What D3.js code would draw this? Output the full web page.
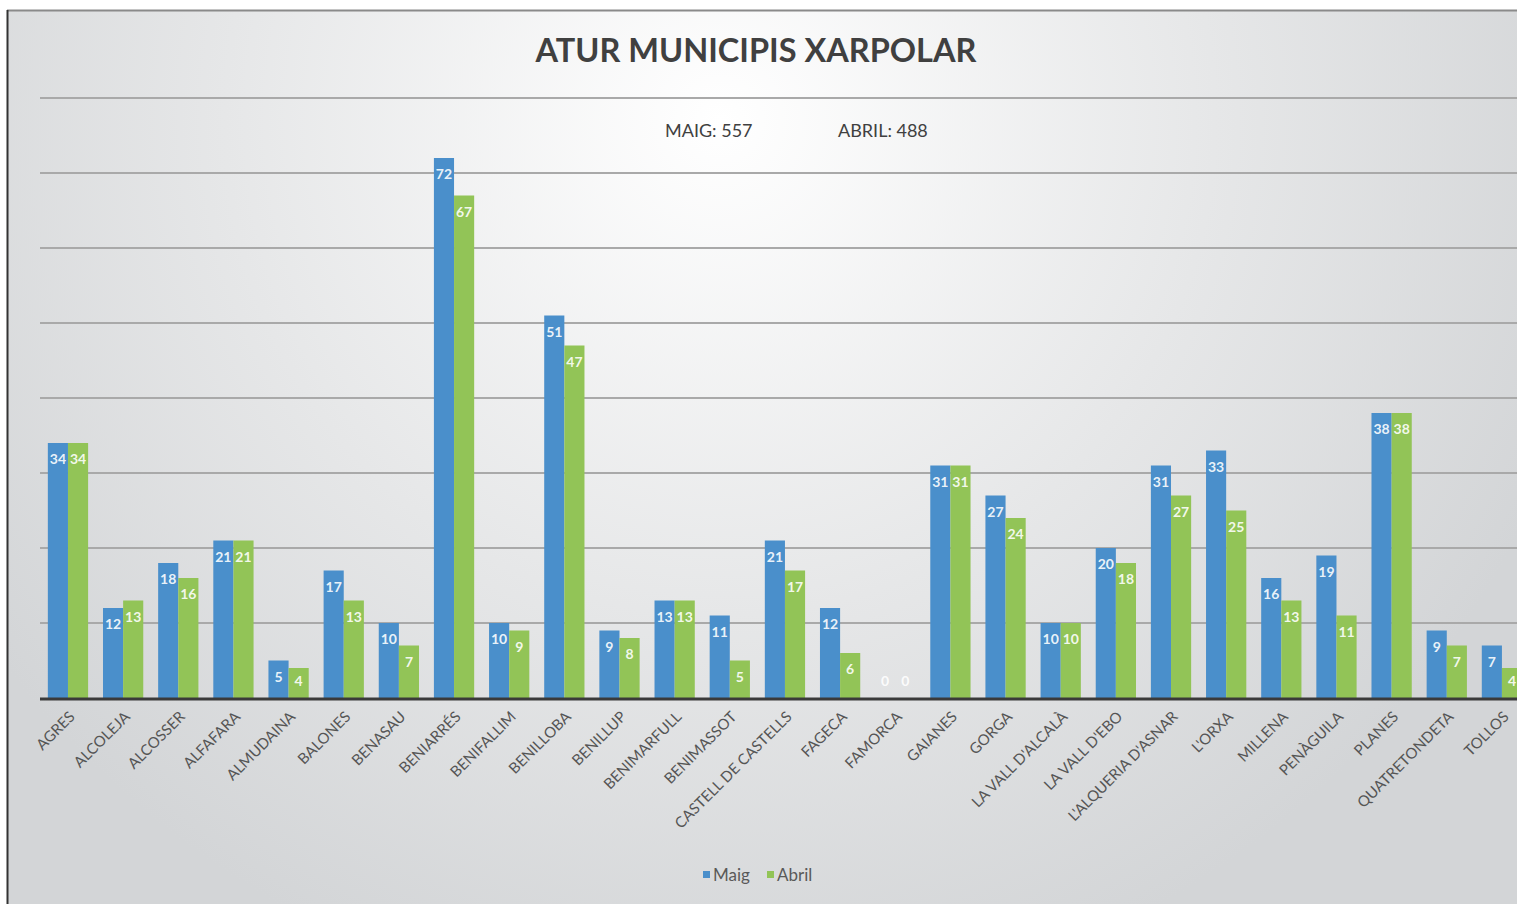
<!DOCTYPE html>
<html>
<head>
<meta charset="utf-8">
<script src="https://cdn.jsdelivr.net/npm/d3@7"></script>
<style>
  html, body { margin: 0; padding: 0; background: #ffffff; overflow: hidden; }
  svg { display: block; font-family: Lato, "Open Sans", sans-serif; }
</style>
</head>
<body>
<div class="chart"></div>
<script>
// municipis i dades d'atur
var municipis = ["AGRES", "ALCOLEJA", "ALCOSSER", "ALFAFARA", "ALMUDAINA", "BALONES", "BENASAU",
  "BENIARRÉS", "BENIFALLIM", "BENILLOBA", "BENILLUP", "BENIMARFULL", "BENIMASSOT",
  "CASTELL DE CASTELLS", "FAGECA", "FAMORCA", "GAIANES", "GORGA", "LA VALL D'ALCALÀ",
  "LA VALL D'EBO", "L'ALQUERIA D'ASNAR", "L'ORXA", "MILLENA", "PENÀGUILA", "PLANES",
  "QUATRETONDETA", "TOLLOS"];
var maig  = [34, 12, 18, 21, 5, 17, 10, 72, 10, 51, 9, 13, 11, 21, 12, 0, 31, 27, 10, 20, 31, 33, 16, 19, 38, 9, 7];
var abril = [34, 13, 16, 21, 4, 13, 7, 67, 9, 47, 8, 13, 5, 17, 6, 0, 31, 24, 10, 18, 27, 25, 13, 11, 38, 7, 4];
var series = ["Maig", "Abril"];
var colors = ["#4a8fcb", "#92c457"];
var yTicks = [10, 20, 30, 40, 50, 60, 70, 80];

var svgWidth = 1517;
var svgHeight = 904;

var svg = d3.select(".chart")
  .append("svg")
  .attr("width", svgWidth)
  .attr("height", svgHeight);

// fons degradat
var defs = svg.append("defs");
var grad = defs.append("radialGradient")
  .attr("id", "bg")
  .attr("gradientUnits", "userSpaceOnUse")
  .attr("cx", 720).attr("cy", 120).attr("r", 900);
grad.append("stop").attr("offset", "0%").attr("stop-color", "#ffffff");
grad.append("stop").attr("offset", "55%").attr("stop-color", "#e6e7e8");
grad.append("stop").attr("offset", "100%").attr("stop-color", "#d3d5d7");

svg.append("rect")
  .attr("x", 8).attr("y", 11)
  .attr("width", svgWidth).attr("height", svgHeight)
  .attr("fill", "url(#bg)");
svg.append("line")
  .attr("x1", 7).attr("x2", svgWidth).attr("y1", 10.5).attr("y2", 10.5)
  .attr("stroke", "#8a8a8a").attr("stroke-width", 2);
svg.append("line")
  .attr("x1", 7.5).attr("x2", 7.5).attr("y1", 10).attr("y2", svgHeight)
  .attr("stroke", "#333333").attr("stroke-width", 2);

var x0 = d3.scaleBand()
  .domain(municipis)
  .range([40.4, 1529.5])
  .paddingInner(0.27)
  .paddingOuter(0.135);

var x1 = d3.scaleBand()
  .domain(series)
  .range([0, x0.bandwidth()]);

var y = d3.scaleLinear()
  .domain([0, 80])
  .range([698, 98]);

// linies de graella
svg.append("g")
  .selectAll("line")
  .data(yTicks)
  .enter()
  .append("line")
  .attr("x1", 40).attr("x2", svgWidth)
  .attr("y1", d => y(d)).attr("y2", d => y(d))
  .attr("stroke", "#a9a9a9")
  .attr("stroke-width", 2);

var rows = municipis.map((m, i) => ({ name: m, vals: [maig[i], abril[i]] }));

var groups = svg.append("g")
  .selectAll("g")
  .data(rows)
  .enter()
  .append("g")
  .attr("transform", d => `translate(${x0(d.name)},0)`);

groups.selectAll("rect")
  .data(d => d.vals.map((v, k) => ({ key: series[k], v: v, k: k })))
  .enter()
  .append("rect")
  .attr("x", d => x1(d.key))
  .attr("y", d => y(d.v))
  .attr("width", x1.bandwidth())
  .attr("height", d => y(0) - y(d.v))
  .attr("fill", d => colors[d.k]);

groups.selectAll("text")
  .data(d => d.vals.map((v, k) => ({ key: series[k], v: v, k: k })))
  .enter()
  .append("text")
  .attr("x", d => x1(d.key) + x1.bandwidth() / 2)
  .attr("y", d => Math.min(y(d.v) + 21, y(0) - 12))
  .attr("text-anchor", "middle")
  .attr("font-size", 14)
  .attr("font-weight", "bold")
  .attr("fill", "#ffffff")
  .attr("fill-opacity", 0.9)
  .text(d => d.v);

// eix X
svg.append("line")
  .attr("x1", 40).attr("x2", svgWidth)
  .attr("y1", y(0) + 1).attr("y2", y(0) + 1)
  .attr("stroke", "#3a3a3a")
  .attr("stroke-width", 3);

svg.append("g")
  .selectAll("text")
  .data(municipis)
  .enter()
  .append("text")
  .attr("transform", d => `translate(${x0(d) + x0.bandwidth() / 2 + 4},714) rotate(-45)`)
  .attr("text-anchor", "end")
  .attr("dy", "0.35em")
  .attr("font-size", 15)
  .attr("fill", "#555555")
  .text(d => d);

// titol
svg.append("text")
  .attr("x", 756).attr("y", 62)
  .attr("text-anchor", "middle")
  .attr("font-size", 32.5)
  .attr("font-weight", "bold")
  .attr("fill", "#404040")
  .text("ATUR MUNICIPIS XARPOLAR");

var totals = [d3.sum(maig), d3.sum(abril)];
svg.append("text")
  .attr("x", 665).attr("y", 137)
  .attr("font-size", 18)
  .attr("fill", "#404040")
  .text("MAIG: " + totals[0]);
svg.append("text")
  .attr("x", 838).attr("y", 137)
  .attr("font-size", 18)
  .attr("fill", "#404040")
  .text("ABRIL: " + totals[1]);

// llegenda
var legend = svg.append("g");
var legX = [703, 767];
series.forEach(function(s, i) {
  legend.append("rect")
    .attr("x", legX[i]).attr("y", 871)
    .attr("width", 7).attr("height", 7)
    .attr("fill", colors[i]);
  legend.append("text")
    .attr("x", legX[i] + 10).attr("y", 881)
    .attr("font-size", 17)
    .attr("fill", "#595959")
    .text(s);
});
</script>
</body>
</html>
